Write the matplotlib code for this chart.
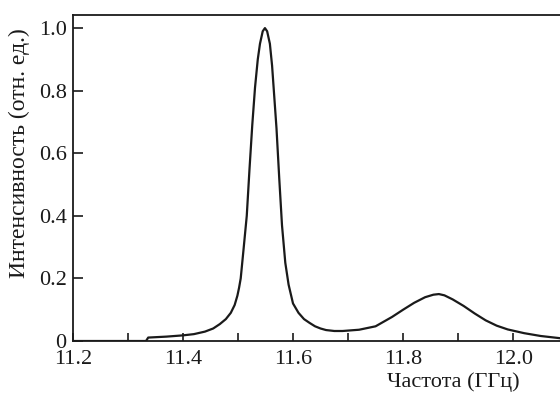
import matplotlib
matplotlib.use("Agg")
import matplotlib.pyplot as plt
from matplotlib.ticker import MultipleLocator, FuncFormatter

plt.rcParams['font.family'] = ['Liberation Serif', 'DejaVu Serif']

# spectrum (frequency in GHz, relative intensity)
freq = [11.2, 11.333, 11.337, 11.37, 11.40, 11.42, 11.44, 11.455, 11.467,
        11.478, 11.487, 11.494, 11.499, 11.502, 11.505, 11.510, 11.516,
        11.521, 11.526, 11.531, 11.536, 11.540, 11.545, 11.549, 11.553,
        11.558, 11.562, 11.566, 11.570, 11.575, 11.580, 11.586, 11.592,
        11.600, 11.61, 11.62, 11.63, 11.64, 11.65, 11.66, 11.675, 11.69,
        11.72, 11.75, 11.78, 11.80, 11.82, 11.84, 11.855, 11.865, 11.875,
        11.89, 11.91, 11.93, 11.95, 11.97, 11.99, 12.02, 12.05, 12.085]
intensity = [0.0, 0.0, 0.011, 0.014, 0.018, 0.022, 0.030, 0.040, 0.054,
             0.070, 0.090, 0.115, 0.145, 0.170, 0.20, 0.29, 0.40,
             0.55, 0.69, 0.81, 0.90, 0.95, 0.99, 1.0, 0.99,
             0.95, 0.88, 0.78, 0.68, 0.52, 0.37, 0.25, 0.18,
             0.12, 0.09, 0.07, 0.058, 0.047, 0.040, 0.035, 0.032, 0.032,
             0.036, 0.047, 0.077, 0.100, 0.122, 0.140, 0.148, 0.150, 0.146,
             0.133, 0.112, 0.088, 0.066, 0.049, 0.037, 0.025, 0.016, 0.009]

xticks = [11.2, 11.4, 11.6, 11.8, 12.0]
yticks = [0, 0.2, 0.4, 0.6, 0.8, 1.0]

fig = plt.figure(figsize=(5.6, 3.94), dpi=100)
ax = fig.add_axes([0.130, 0.1345, 0.87, 0.8275])

ax.plot(freq, intensity, color='#1a1a1a', lw=1.6, solid_joinstyle='round')

ax.set_xlim(11.2, 12.085)
ax.set_ylim(0, 1.042)
ax.set_xticks(xticks)
ax.xaxis.set_minor_locator(MultipleLocator(0.1))
ax.set_yticks(yticks)
ax.yaxis.set_major_formatter(FuncFormatter(lambda v, p: '0' if v == 0 else '%.1f' % v))

ax.tick_params(axis='both', which='both', direction='in', labelsize=16,
               width=1.2, color='#1a1a1a', labelcolor='#1a1a1a')
ax.tick_params(axis='x', which='both', length=6, pad=6.5)
ax.tick_params(axis='y', length=7, pad=4.5)
ax.spines['right'].set_visible(False)
for s in ['left', 'top', 'bottom']:
    ax.spines[s].set_linewidth(1.3)
    ax.spines[s].set_color('#1a1a1a')

ax.set_xlabel('Частота (ГГц)', fontsize=16, color='#1a1a1a')
ax.xaxis.set_label_coords(0.78, -0.097)
ax.set_ylabel('Интенсивность (отн. ед.)', fontsize=17, color='#1a1a1a')
ax.yaxis.set_label_coords(-0.088, 0.577)

fig.savefig('out.png', dpi=100)
